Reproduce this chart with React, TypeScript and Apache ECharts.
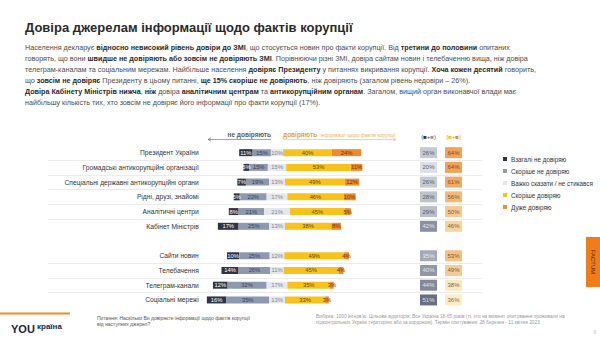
import React, { useEffect, useRef } from 'react';
import * as echarts from 'echarts';

const TITLE = 'Довіра джерелам інформації щодо фактів корупції';
const CATEGORIES = [
  'Президент України',
  'Громадські антикорупційні організації',
  'Спеціальні державні антикорупційні органи',
  'Рідні, друзі, знайомі',
  'Аналітичні центри',
  'Кабінет Міністрів',
  'Сайти новин',
  'Телебачення',
  'Телеграм-канали',
  'Соціальні мережі',
];
const GAP_AFTER = 5;
const SERIES_NAMES = ['Взагалі не довіряю', 'Скоріше не довіряю', 'Важко сказати / не стикався', 'Скоріше довіряю', 'Дуже довіряю'];
const STRONG_DISTRUST = [11, 5, 7, 5, 8, 17, 10, 14, 12, 16];
const RATHER_DISTRUST = [15, 15, 19, 22, 21, 25, 25, 26, 32, 35];
const HARD_TO_SAY = [10, 15, 13, 17, 21, 13, 12, 11, 17, 13];
const RATHER_TRUST = [40, 53, 49, 46, 45, 38, 49, 45, 35, 33];
const FULL_TRUST = [24, 11, 12, 10, 5, 8, 4, 4, 3, 3];
const TOTAL_DISTRUST = [26, 20, 26, 28, 29, 42, 35, 40, 44, 51];
const TOTAL_TRUST = [64, 64, 61, 56, 50, 46, 53, 49, 38, 36];

const PARAGRAPH: [string, boolean][][] = [
  [['Населення декларує ', false], ['відносно невисокий рівень довіри до ЗМІ', true], [', що стосується новин про факти корупції. Від ', false], ['третини до половини ', true], ['опитаних', false]],
  [['говорять, що вони ', false], ['швидше не довіряють або зовсім не довіряють ЗМІ', true], ['. Порівнюючи різні ЗМІ, довіра сайтам новин і телебаченню вища, ніж довіра', false]],
  [['телеграм-каналам та соціальним мережам. Найбільше населення ', false], ['довіряє Президенту ', true], ['у питаннях викривання корупції. ', false], ['Хоча кожен десятий ', true], ['говорить,', false]],
  [['що ', false], ['зовсім не довіряє ', true], ['Президенту в цьому питанні, ', false], ['ще 15% скоріше не довіряють', true], [', ніж довіряють (загалом рівень недовіри – 26%).', false]],
  [['Довіра Кабінету Міністрів нижча', true], [', ', false], ['ніж ', true], ['довіра ', false], ['аналітичним центрам ', true], ['та ', false], ['антикорупційним органам', true], ['. Загалом, вищий орган виконавчої влади має', false]],
  [['найбільшу кількість тих, хто зовсім не довіряє його інформації про факти корупції (17%).', false]],
];
const QUESTION = ['Питання: Наскільки Ви довіряєте інформації щодо фактів корупції', 'від наступних джерел?'];
const SAMPLE = [
  "Вибірка: 1000 інтерв'ю. Цільова аудиторія: Все Україна 18-65 років (ті, хто на момент опитування проживали на",
  'підконтрольних Україні територіях або за кордоном). Термін опитування: 28 березня - 11 квітня 2023',
];

const FONT = "'Liberation Sans', Arial, sans-serif";
const COLORS = ['#2f3545', '#8e99b0', '#e5e7eb', '#f8c21d', '#f08b2b'];
const LABEL_COLORS = ['#ffffff', '#34405a', '#7d8597', '#5e4b14', '#6a3a0a'];
const CENTER = 60;

function withGap<T>(arr: T[], filler: T): T[] {
  return [...arr.slice(0, GAP_AFTER + 1), filler, ...arr.slice(GAP_AFTER + 1)];
}

export default function App() {
  const ref = useRef<HTMLDivElement>(null);
  useEffect(() => {
    document.body.style.margin = '0';
    const chart = echarts.init(ref.current!, undefined, { renderer: 'svg' });
    const rows = withGap(CATEGORIES, '');
    const segs = [STRONG_DISTRUST, RATHER_DISTRUST, HARD_TO_SAY, RATHER_TRUST, FULL_TRUST];
    const offsets = CATEGORIES.map((_, i) => CENTER - (STRONG_DISTRUST[i] + RATHER_DISTRUST[i] + HARD_TO_SAY[i] / 2));

    const barSeries: any[] = [
      {
        type: 'bar', name: 'offset', stack: 'a', xAxisIndex: 1, yAxisIndex: 1, barWidth: 7, silent: true,
        itemStyle: { color: 'rgba(0,0,0,0)' }, data: withGap<any>(offsets, '-'),
      },
      ...segs.map((arr, k) => ({
        type: 'bar', name: SERIES_NAMES[k], stack: 'a', xAxisIndex: 1, yAxisIndex: 1, barWidth: 7,
        itemStyle: { color: COLORS[k] },
        label: { show: true, position: 'inside', formatter: '{c}%', fontSize: 5.8, fontFamily: FONT, color: LABEL_COLORS[k] },
        data: withGap<any>(arr, '-'),
      })),
    ];

    const boxData = (arr: number[], col: number, light: (v: number) => boolean, dark: string) =>
      withGap<any>(arr, null)
        .map((v, i) => (v == null ? null : { value: [col, i, v], label: { color: light(v) ? '#ffffff' : dark } }))
        .filter((d) => d);

    const boxSeries: any[] = [
      {
        type: 'scatter', xAxisIndex: 2, yAxisIndex: 2, symbol: 'rect', symbolSize: [17, 11],
        label: { show: true, position: 'inside', fontSize: 6, fontFamily: FONT, formatter: (p: any) => p.value[2] + '%' },
        data: boxData(TOTAL_DISTRUST, 0, (v) => v >= 35, '#333a48'),
      },
      {
        type: 'scatter', xAxisIndex: 2, yAxisIndex: 2, symbol: 'rect', symbolSize: [17, 11],
        label: { show: true, position: 'inside', fontSize: 6, fontFamily: FONT, formatter: (p: any) => p.value[2] + '%' },
        data: boxData(TOTAL_TRUST, 1, () => false, '#5a360c'),
      },
    ];

    const rowTop = 145.3;
    const rowHeight = 162;
    const gridBase = { top: rowTop, height: rowHeight, containLabel: false, outerBoundsMode: 'none' };

    const lineIdx = rows.map((r, i) => (i > 0 && r !== '' && rows[i - 1] !== '' ? i : -1)).filter((i) => i > 0);

    const para = PARAGRAPH.map((line, i) => ({
      type: 'text', x: 25, y: 47 + i * 11,
      style: {
        text: line.map(([t, b]) => `{${b ? 'b' : 'n'}|${t}}`).join(''),
        verticalAlign: 'middle',
        rich: {
          n: { fontSize: 7.2, fontFamily: FONT, fill: '#4d4d4d' },
          b: { fontSize: 7.2, fontFamily: FONT, fontWeight: 'bold', fill: '#2a2a2a' },
        },
      },
    }));

    const option: any = {
      animation: false,
      backgroundColor: '#ffffff',
      textStyle: { fontFamily: FONT },
      grid: [
        { ...gridBase, left: 48, width: 434 },
        { ...gridBase, left: 277 - CENTER * 1.22, width: 130 * 1.22 },
        { ...gridBase, left: 416, width: 50 },
      ],
      xAxis: [
        { gridIndex: 0, type: 'value', show: false },
        { gridIndex: 1, type: 'value', min: 0, max: 130, show: false },
        { gridIndex: 2, type: 'category', data: ['distrust', 'trust'], show: false },
      ],
      yAxis: [
        {
          gridIndex: 0, type: 'category', data: rows, inverse: true,
          axisLine: { show: false }, axisTick: { show: false }, axisLabel: { show: false },
          splitLine: {
            show: true, showMaxLine: false,
            interval: (index: number) => lineIdx.includes(index),
            lineStyle: { color: '#dedede', width: 0.6 },
          },
        },
        {
          gridIndex: 1, type: 'category', data: rows, inverse: true,
          axisLine: { show: false }, axisTick: { show: false },
          axisLabel: { fontSize: 6.7, color: '#333333', margin: 5, fontFamily: FONT },
        },
        { gridIndex: 2, type: 'category', data: rows, inverse: true, show: false },
      ],
      visualMap: [
        { type: 'continuous', show: false, seriesIndex: 6, dimension: 2, min: 20, max: 51, inRange: { color: ['#d3d7e0', '#434b5f'] } },
        { type: 'continuous', show: false, seriesIndex: 7, dimension: 2, min: 36, max: 64, inRange: { color: ['#fbe8bb', '#ef8b30'] } },
      ],
      legend: {
        data: SERIES_NAMES, orient: 'vertical', left: 498, top: 151, itemWidth: 4, itemHeight: 4, itemGap: 6,
        icon: 'rect', selectedMode: false,
        textStyle: { fontSize: 6.3, color: '#333333', fontFamily: FONT, padding: [0, 0, 0, -1] },
      },
      series: [...barSeries, ...boxSeries],
      graphic: [
        { type: 'text', x: 25, y: 27, style: { text: TITLE, font: `bold 13px ${FONT}`, fill: '#2a2a2a', verticalAlign: 'middle' } },
        ...para,
        { type: 'text', x: 271, y: 134.5, style: { text: 'не довіряють', font: `bold 6.5px ${FONT}`, fill: '#56606f', align: 'right', verticalAlign: 'middle' } },
        { type: 'line', shape: { x1: 271, y1: 139.5, x2: 208, y2: 139.5 }, style: { stroke: '#666666', lineWidth: 0.6 } },
        { type: 'polyline', shape: { points: [[211, 137.8], [208, 139.5], [211, 141.2]] }, style: { stroke: '#666666', lineWidth: 0.6, fill: null } },
        {
          type: 'text', x: 283, y: 134.5,
          style: {
            text: '{a|довіряють} {b|інформації щодо фактів корупції}', verticalAlign: 'middle',
            rich: {
              a: { fontSize: 6.5, fontWeight: 'bold', fontFamily: FONT, fill: '#e8a233' },
              b: { fontSize: 5, fontFamily: FONT, fill: '#e9b469' },
            },
          },
        },
        { type: 'line', shape: { x1: 283, y1: 139.5, x2: 396, y2: 139.5 }, style: { stroke: '#e9b469', lineWidth: 0.6 } },
        { type: 'polyline', shape: { points: [[393, 137.8], [396, 139.5], [393, 141.2]] }, style: { stroke: '#e9b469', lineWidth: 0.6, fill: null } },
        {
          type: 'text', x: 428.5, y: 137,
          style: {
            text: '{p|(}{s1|■}{p|+}{s2|■}{p|)}', align: 'center', verticalAlign: 'middle',
            rich: {
              p: { fontSize: 6, fontFamily: FONT, fill: '#444444' },
              s1: { fontSize: 6, fontFamily: FONT, fill: COLORS[0] },
              s2: { fontSize: 6, fontFamily: FONT, fill: COLORS[1] },
            },
          },
        },
        {
          type: 'text', x: 453.5, y: 137,
          style: {
            text: '{p|(}{s1|■}{p|+}{s2|■}{p|)}', align: 'center', verticalAlign: 'middle',
            rich: {
              p: { fontSize: 6, fontFamily: FONT, fill: '#e08a2a' },
              s1: { fontSize: 6, fontFamily: FONT, fill: COLORS[3] },
              s2: { fontSize: 6, fontFamily: FONT, fill: COLORS[4] },
            },
          },
        },
        { type: 'rect', shape: { x: 586, y: 237, width: 14, height: 50 }, style: { fill: '#f07d1a' } },
        { type: 'text', x: 593, y: 262, rotation: -Math.PI / 2, style: { text: 'FACTUM', font: `6px ${FONT}`, fill: '#5a2a00', align: 'center', verticalAlign: 'middle' } },
        { type: 'rect', shape: { x: 0, y: 312.5, width: 70, height: 2 }, style: { fill: '#f08a2a' } },
        { type: 'text', x: 11, y: 329, style: { text: 'YOU', font: `bold 11px ${FONT}`, fill: '#1d2540', verticalAlign: 'middle' } },
        { type: 'text', x: 37, y: 326, style: { text: 'країна', font: `bold 8px ${FONT}`, fill: '#1d2540', verticalAlign: 'middle' } },
        ...QUESTION.map((t, i) => ({ type: 'text', x: 97, y: 317.5 + i * 6, style: { text: t, font: `5px ${FONT}`, fill: '#555555', verticalAlign: 'middle' } })),
        ...SAMPLE.map((t, i) => ({ type: 'text', x: 316, y: 316.5 + i * 6, style: { text: t, font: `4.8px ${FONT}`, fill: '#9a9a9a', verticalAlign: 'middle' } })),
        { type: 'text', x: 595, y: 332, style: { text: '8', font: `5px ${FONT}`, fill: '#cccccc', align: 'center', verticalAlign: 'middle' } },
      ],
    };
    chart.setOption(option);
    return () => chart.dispose();
  }, []);
  return <div ref={ref} style={{ width: 600, height: 337, position: 'absolute', left: 0, top: 0, background: '#fff' }} />;
}
